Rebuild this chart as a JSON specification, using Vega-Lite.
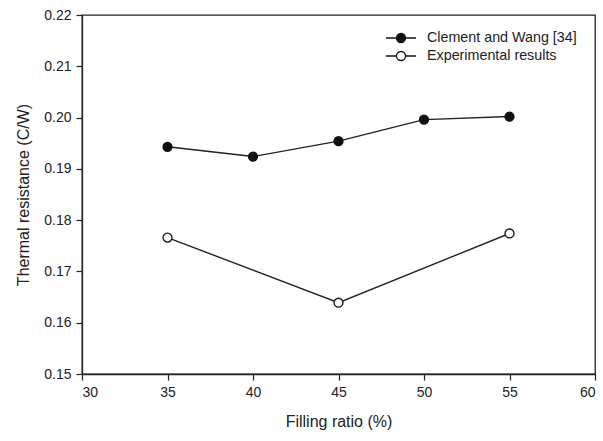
{
  "$schema": "https://vega.github.io/schema/vega-lite/v6.json",
  "width": 513,
  "height": 359,
  "autosize": "none",
  "padding": {"left": 82, "top": 15, "right": 8, "bottom": 67},
  "background": "white",
  "config": {
    "font": "Liberation Sans",
    "view": {"stroke": "#222", "strokeWidth": 1.3},
    "axis": {
      "grid": false,
      "domainColor": "#222",
      "domainWidth": 1.3,
      "tickColor": "#222",
      "tickWidth": 1.2,
      "labelColor": "#222",
      "titleColor": "#222",
      "labelFont": "Liberation Sans",
      "titleFont": "Liberation Sans",
      "labelFontSize": 14,
      "titleFontSize": 16,
      "titleFontWeight": "normal",
      "tickSize": 6,
      "labelPadding": 5
    }
  },
  "data": {
    "values": [
      {"ratio": 35, "R": 0.1943, "series": "Clement and Wang [34]"},
      {"ratio": 40, "R": 0.1924, "series": "Clement and Wang [34]"},
      {"ratio": 45, "R": 0.1954, "series": "Clement and Wang [34]"},
      {"ratio": 50, "R": 0.1996, "series": "Clement and Wang [34]"},
      {"ratio": 55, "R": 0.2002, "series": "Clement and Wang [34]"},
      {"ratio": 35, "R": 0.1766, "series": "Experimental results"},
      {"ratio": 45, "R": 0.1639, "series": "Experimental results"},
      {"ratio": 55, "R": 0.1774, "series": "Experimental results"}
    ]
  },
  "encoding": {
    "x": {
      "field": "ratio", "type": "quantitative",
      "scale": {"domain": [30, 60], "nice": false, "zero": false},
      "axis": {"values": [30, 35, 40, 45, 50, 55, 60], "title": "Filling ratio (%)", "titlePadding": 14}
    },
    "y": {
      "field": "R", "type": "quantitative",
      "scale": {"domain": [0.15, 0.22], "nice": false, "zero": false},
      "axis": {"values": [0.15, 0.16, 0.17, 0.18, 0.19, 0.2, 0.21, 0.22], "format": ".2f", "title": "Thermal resistance (C/W)", "titlePadding": 12}
    }
  },
  "layer": [
    {
      "mark": {"type": "line", "color": "#222", "strokeWidth": 1.4},
      "encoding": {"detail": {"field": "series"}}
    },
    {
      "mark": {"type": "point", "shape": "circle", "size": 80, "stroke": "#111", "strokeWidth": 1.3, "opacity": 1},
      "encoding": {
        "fill": {
          "field": "series", "type": "nominal",
          "scale": {"domain": ["Clement and Wang [34]", "Experimental results"], "range": ["#111", "white"]},
          "legend": {
            "title": null,
            "orient": "none",
            "legendX": 309,
            "legendY": 13,
            "symbolType": "M-1.67,0H-0.5M0.5,0H1.67M-0.5,0A0.5,0.5 0 1,0 0.5,0A0.5,0.5 0 1,0 -0.5,0Z",
            "symbolSize": 324,
            "symbolStrokeColor": "#111",
            "symbolStrokeWidth": 1.3,
            "symbolOpacity": 1,
            "labelFontSize": 14.3,
            "labelColor": "#222",
            "labelOffset": 16,
            "rowPadding": -1
          }
        }
      }
    }
  ]
}
